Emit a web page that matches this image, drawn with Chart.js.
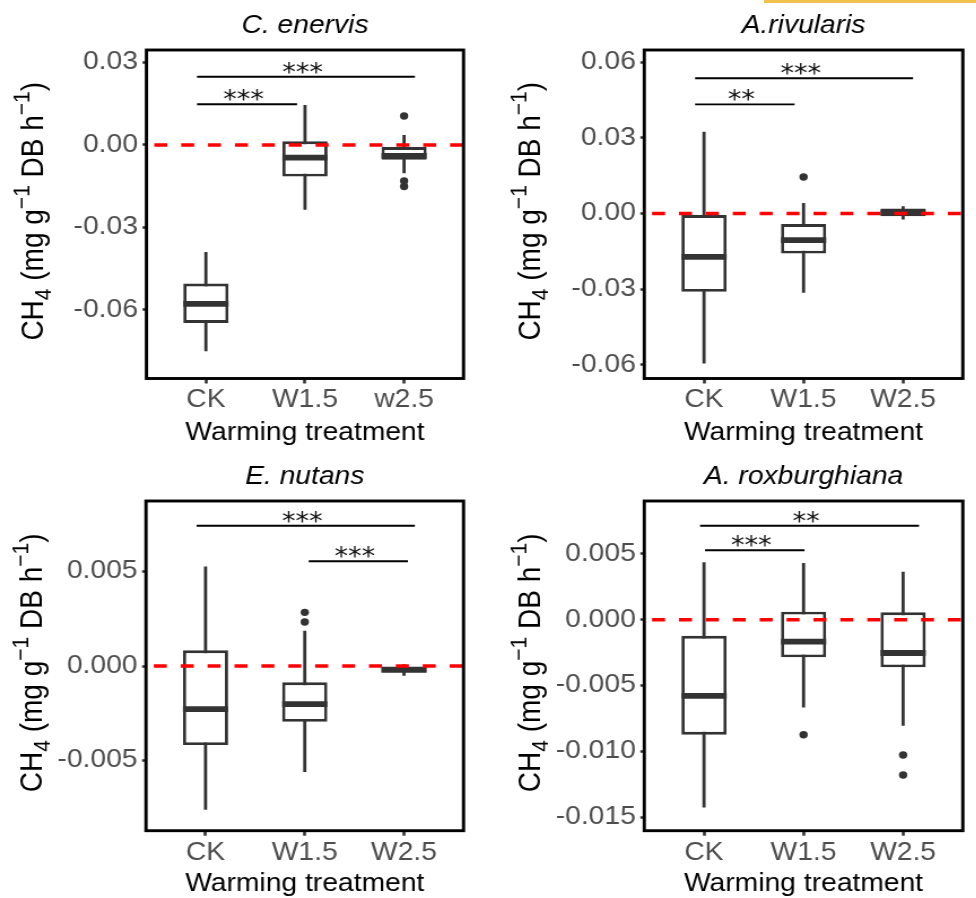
<!DOCTYPE html>
<html>
<head>
<meta charset="utf-8">
<script src="https://cdn.jsdelivr.net/npm/chart.js@4.4.0/dist/chart.umd.min.js"></script>
<style>
  html, body { margin: 0; padding: 0; background: #fff; width: 976px; height: 898px; overflow: hidden; }
  /* the source figure is stretched ~13% horizontally, so each panel is too */
  .panel { position: absolute; transform-origin: 0 0; transform: scaleX(1.13); }
  #strip { position: absolute; left: 764px; top: 0; width: 212px; height: 3px; background: #f0c24b; }
</style>
</head>
<body>
<div id="strip"></div>
<div class="panel" style="left:0;top:0"><canvas id="c1" width="436" height="449"></canvas></div>
<div class="panel" style="left:488px;top:0"><canvas id="c2" width="446" height="449"></canvas></div>
<div class="panel" style="left:0;top:451px"><canvas id="c3" width="436" height="449"></canvas></div>
<div class="panel" style="left:488px;top:451px"><canvas id="c4" width="446" height="449"></canvas></div>

<script>
Chart.defaults.font.family = '"Liberation Sans", Arial, sans-serif';

// categories
const catsEnervis = ["CK", "W1.5", "w2.5"];
const cats = ["CK", "W1.5", "W2.5"];

// C. enervis
const enLow  = [-0.0750, -0.0236, -0.0103];
const enQ1   = [-0.0647, -0.0115, -0.0054];
const enMed  = [-0.0578, -0.0046, -0.0040];
const enQ3   = [-0.0504,  0.0013, -0.0008];
const enHigh = [-0.0389,  0.0145,  0.0036];
const enOutX = [3, 3, 3];
const enOutY = [0.0105, -0.0131, -0.0151];
const enTicks = [-0.06, -0.03, 0, 0.03];
const enSigFrom = [0.91, 0.91];
const enSigTo   = [1.92, 3.11];
const enSigY    = [0.0148, 0.0248];
const enSigText = ["***", "***"];

// A.rivularis
const riLow  = [-0.0595, -0.0315, -0.0024];
const riQ1   = [-0.0311, -0.0159, -0.0011];
const riMed  = [-0.0172, -0.0106,  0.0004];
const riQ3   = [-0.0006, -0.0042,  0.0020];
const riHigh = [ 0.0324,  0.0042,  0.0029];
const riOutX = [2];
const riOutY = [0.0145];
const riTicks = [-0.06, -0.03, 0, 0.03, 0.06];
const riSigFrom = [0.91, 0.91];
const riSigTo   = [1.91, 3.10];
const riSigY    = [0.0433, 0.0537];
const riSigText = ["**", "***"];

// E. nutans
const nuLow  = [-0.0076, -0.0056, -0.00051];
const nuQ1   = [-0.00418, -0.00295, -0.00033];
const nuMed  = [-0.00228, -0.00201, -0.0002];
const nuQ3   = [ 0.00083, -0.00086, -0.00002];
const nuHigh = [ 0.00527,  0.00187,  0.0001];
const nuOutX = [2, 2];
const nuOutY = [0.00284, 0.00233];
const nuTicks = [-0.005, 0, 0.005];
const nuSigFrom = [0.91, 2.04];
const nuSigTo   = [3.11, 3.04];
const nuSigY    = [0.00742, 0.00554];
const nuSigText = ["***", "***"];

// A. roxburghiana
const roLow  = [-0.01426, -0.00666, -0.00806];
const roQ1   = [-0.00874, -0.00286, -0.00362];
const roMed  = [-0.00578, -0.00167, -0.00253];
const roQ3   = [-0.00122,  0.00061,  0.00056];
const roHigh = [ 0.00436,  0.00431,  0.00365];
const roOutX = [2, 3, 3];
const roOutY = [-0.00874, -0.01028, -0.0118];
const roTicks = [-0.015, -0.01, -0.005, 0, 0.005];
const roSigFrom = [0.96, 1.01];
const roSigTo   = [3.16, 2.01];
const roSigY    = [0.00714, 0.00527];
const roSigText = ["**", "***"];

const BOX = "#333333";
const TICK_TXT = "#4d4d4d";

function drawYTitle(ctx, cx, cy) {
  const big = 28, small = 21;
  const parts = [["CH", 0, big], ["4", 7, small], [" (mg g", 0, big], ["\u22121", -12, small],
                 [" DB h", 0, big], ["\u22121", -12, small], [")", 0, big]];
  let total = 0;
  for (const [t, , sz] of parts) {
    ctx.font = sz + 'px "Liberation Sans"';
    total += ctx.measureText(t).width;
  }
  ctx.save();
  ctx.translate(cx, cy);
  ctx.rotate(-Math.PI / 2);
  ctx.fillStyle = "#000";
  ctx.textBaseline = "alphabetic";
  ctx.textAlign = "left";
  let x = -total / 2;
  for (const [t, dy, sz] of parts) {
    ctx.font = sz + 'px "Liberation Sans"';
    ctx.fillText(t, x, 10 + dy);
    x += ctx.measureText(t).width;
  }
  ctx.restore();
}

function boxChart(id, p) {
  const canvas = document.getElementById(id);
  const W = canvas.width, H = canvas.height;
  const xs = p.cats.map((c, i) => i + 1);

  const brackets = p.sigFrom.map((f, i) => ({
    type: "line",
    data: [{x: f, y: p.sigY[i]}, {x: p.sigTo[i], y: p.sigY[i]}],
    borderColor: "#000", borderWidth: 1.9, pointRadius: 0, order: 1
  }));

  const decor = {
    id: "decor",
    afterDatasetsDraw(chart) {
      const {ctx, chartArea: a, scales: {x, y}} = chart;
      // dashed zero line
      const y0 = y.getPixelForValue(0);
      ctx.save();
      ctx.beginPath();
      ctx.rect(a.left, a.top, a.right - a.left, a.bottom - a.top);
      ctx.clip();
      ctx.strokeStyle = "#ff0000";
      ctx.lineWidth = 3.5;
      ctx.setLineDash([11.5, 12.3]);
      ctx.lineDashOffset = 16.9;
      ctx.beginPath();
      ctx.moveTo(a.left, y0);
      ctx.lineTo(a.right, y0);
      ctx.stroke();
      ctx.restore();

      // significance labels
      ctx.save();
      ctx.font = '24px "DejaVu Sans"';
      ctx.fillStyle = "#111";
      ctx.textAlign = "center";
      ctx.textBaseline = "alphabetic";
      p.sigText.forEach((t, i) => {
        const cx = x.getPixelForValue((p.sigFrom[i] + p.sigTo[i]) / 2) - 3;
        ctx.fillText(t, cx, y.getPixelForValue(p.sigY[i]) + 3);
      });
      ctx.restore();

      // panel border
      ctx.save();
      ctx.strokeStyle = "#000";
      ctx.lineWidth = 2.9;
      ctx.strokeRect(a.left, a.top, a.right - a.left, a.bottom - a.top);
      ctx.restore();
    },
    afterDraw(chart) {
      const {ctx, chartArea: a} = chart;
      const mid = (a.left + a.right) / 2;
      ctx.save();
      ctx.fillStyle = "#000";
      ctx.textAlign = "center";
      ctx.textBaseline = "alphabetic";
      ctx.font = 'italic 25px "Liberation Sans"';
      ctx.fillText(p.title, mid, 32.5);
      ctx.font = '25px "Liberation Sans"';
      ctx.fillText("Warming treatment", mid, 440);
      ctx.restore();
      drawYTitle(ctx, a.left - 102, (a.top + a.bottom) / 2 - 3);
    }
  };

  new Chart(canvas, {
    type: "bar",
    data: {
      datasets: [
        ...brackets,
        {
          type: "scatter", data: p.outX.map((v, i) => ({x: v, y: p.outY[i]})),
          pointRadius: 3.7, pointBackgroundColor: BOX, pointBorderColor: BOX, pointBorderWidth: 0, order: 2
        },
        {
          type: "scatter", data: xs.map((v, i) => ({x: v, y: p.med[i]})),
          pointStyle: "line", pointRadius: 20, pointBorderColor: BOX, pointBorderWidth: 5.8, order: 3
        },
        {
          type: "bar", data: xs.map((v, i) => ({x: v, y: [p.q1[i], p.q3[i]]})),
          backgroundColor: "#fff", borderColor: BOX, borderWidth: 2.9, borderSkipped: false,
          barThickness: 40, grouped: false, inflateAmount: 0, order: 4
        },
        {
          type: "bar", data: xs.map((v, i) => ({x: v, y: [p.low[i], p.high[i]]})),
          backgroundColor: BOX, borderWidth: 0, barThickness: 2.8, grouped: false, inflateAmount: 0, order: 5
        }
      ]
    },
    options: {
      responsive: false,
      animation: false,
      events: [],
      devicePixelRatio: 1,
      layout: {padding: {top: p.top, right: W - p.right, left: 0, bottom: 0}},
      plugins: {legend: {display: false}, tooltip: {enabled: false}},
      scales: {
        x: {
          type: "linear", min: 0.4, max: 3.6, offset: false,
          afterBuildTicks: a => { a.ticks = xs.map(v => ({value: v})); },
          afterFit: a => { a.height = H - p.bottom; },
          ticks: {
            callback: (v, i) => p.cats[i], color: TICK_TXT, font: {size: 25},
            padding: 2, maxRotation: 0, autoSkip: false
          },
          grid: {offset: false, drawOnChartArea: false, tickLength: 5, tickWidth: 2.6, tickColor: BOX},
          border: {display: false}
        },
        y: {
          min: p.yMin, max: p.yMax,
          afterBuildTicks: a => { a.ticks = p.yTicks.map(v => ({value: v})); },
          afterFit: a => { a.width = p.left; },
          ticks: {callback: v => v.toFixed(p.dec), color: TICK_TXT, font: {size: 25}, padding: 4},
          grid: {drawOnChartArea: false, tickLength: 3.5, tickWidth: 2.5, tickColor: BOX},
          border: {display: false}
        }
      }
    },
    plugins: [decor]
  });
}

boxChart("c1", {
  title: "C. enervis", cats: catsEnervis,
  low: enLow, q1: enQ1, med: enMed, q3: enQ3, high: enHigh, outX: enOutX, outY: enOutY,
  yTicks: enTicks, yMin: -0.0849, yMax: 0.0345, dec: 2,
  sigFrom: enSigFrom, sigTo: enSigTo, sigY: enSigY, sigText: enSigText,
  left: 129.6, right: 433.2, top: 50, bottom: 378.5
});
boxChart("c2", {
  title: "A.rivularis", cats: cats,
  low: riLow, q1: riQ1, med: riMed, q3: riQ3, high: riHigh, outX: riOutX, outY: riOutY,
  yTicks: riTicks, yMin: -0.0655, yMax: 0.0649, dec: 2,
  sigFrom: riSigFrom, sigTo: riSigTo, sigY: riSigY, sigText: riSigText,
  left: 138.3, right: 441.9, top: 50, bottom: 378.5
});
boxChart("c3", {
  title: "E. nutans", cats: cats,
  low: nuLow, q1: nuQ1, med: nuMed, q3: nuQ3, high: nuHigh, outX: nuOutX, outY: nuOutY,
  yTicks: nuTicks, yMin: -0.00871, yMax: 0.00873, dec: 3,
  sigFrom: nuSigFrom, sigTo: nuSigTo, sigY: nuSigY, sigText: nuSigText,
  left: 129.2, right: 433.2, top: 50, bottom: 379.7
});
boxChart("c4", {
  title: "A. roxburghiana", cats: cats,
  low: roLow, q1: roQ1, med: roMed, q3: roQ3, high: roHigh, outX: roOutX, outY: roOutY,
  yTicks: roTicks, yMin: -0.016026, yMax: 0.009015, dec: 3,
  sigFrom: roSigFrom, sigTo: roSigTo, sigY: roSigY, sigText: roSigText,
  left: 138.3, right: 441.9, top: 50, bottom: 379.7
});
</script>
</body>
</html>
